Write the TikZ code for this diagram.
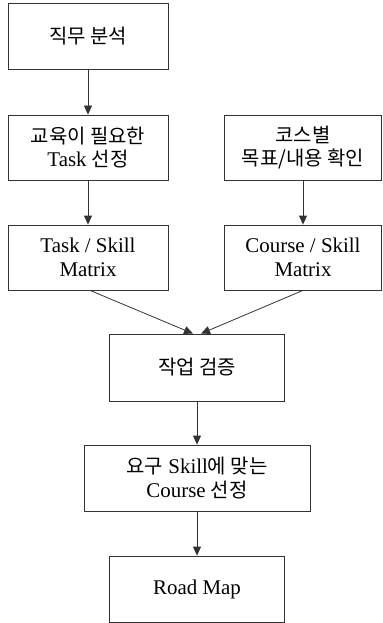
\documentclass[tikz,border=0pt]{standalone}
\usepackage{fontspec}
\setmainfont{Liberation Serif}
\newfontfamily\kr{Noto Sans CJK KR}
\usetikzlibrary{arrows.meta}
\tikzset{
  box/.style={draw=black!80, line width=0.8bp, rectangle, align=center, inner sep=0pt, font=\fontsize{21}{24}\selectfont},
  conn/.style={draw=black!80, line width=0.8bp, -{Triangle[length=9bp,width=8bp]}},
}
\newcommand{\K}[1]{{\kr\fontsize{20}{24}\selectfont #1}}
\begin{document}
\begin{tikzpicture}[x=1bp,y=-1bp]
\useasboundingbox (0,0) rectangle (382,623);
\node[box, minimum width=160bp, minimum height=66bp] (b1) at (88,36) {\K{직무 분석}};
\node[box, minimum width=160bp, minimum height=65bp] (b2) at (88,147.5) {\K{교육이 필요한}\\Task \K{선정}};
\node[box, minimum width=157bp, minimum height=65bp] (b3) at (303,147.5) {\K{코스별}\\\K{목표/내용 확인}};
\node[box, minimum width=160bp, minimum height=65bp] (b4) at (88,257.5) {Task / Skill\\Matrix};
\node[box, minimum width=157bp, minimum height=65bp] (b5) at (303,257.5) {Course / Skill\\Matrix};
\node[box, minimum width=175bp, minimum height=67bp] (b6) at (197,367.5) {\K{작업 검증}};
\node[box, minimum width=226bp, minimum height=66bp] (b7) at (197,478) {\K{요구} Skill\K{에 맞는}\\Course \K{선정}};
\node[box, minimum width=175bp, minimum height=66bp] (b8) at (197,589) {Road Map};
\draw[conn] (b1) -- (b2);
\draw[conn] (b2) -- (b4);
\draw[conn] (b3) -- (b5);
\draw[conn] ([xshift=2bp]b4.south) -- ([xshift=-4bp]b6.north);
\draw[conn] (b5.south) -- ([xshift=4bp]b6.north);
\draw[conn] (b6) -- (b7);
\draw[conn] (b7) -- (b8);
\end{tikzpicture}
\end{document}
